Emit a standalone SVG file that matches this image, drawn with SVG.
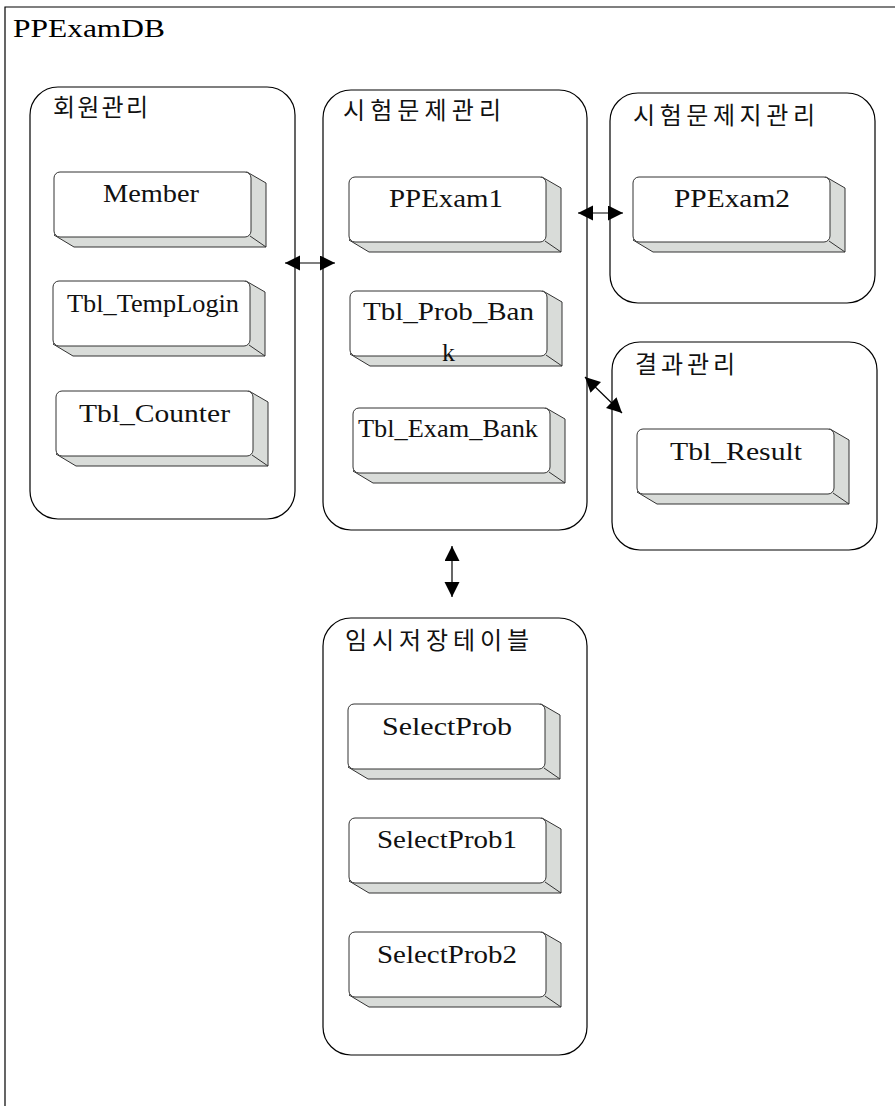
<svg xmlns="http://www.w3.org/2000/svg" xmlns:xlink="http://www.w3.org/1999/xlink" width="895" height="1106" viewBox="0 0 895 1106">
<style>
.frame{fill:none;stroke:#000;stroke-width:1.2}
.grp{fill:#fff;stroke:#000;stroke-width:1.2}
.glabel{font-family:"Noto Sans CJK KR","Noto Sans",sans-serif;font-size:24px;fill:#111}
.tlabel{font-family:"Liberation Serif","Times New Roman",serif;font-size:25px;fill:#111}
.title{font-family:"Liberation Serif","Times New Roman",serif;font-size:25px;fill:#000}
.conn{stroke:#000;stroke-width:1.2;fill:none}
</style>
<defs>
<marker id="ah" markerUnits="userSpaceOnUse" markerWidth="16" markerHeight="16" refX="15" refY="7.5" orient="auto-start-reverse" viewBox="0 0 16 16">
<path d="M0,0 L15,7.5 L0,15 z" fill="#000"/>
</marker>
<g id="tbl">
<polygon points="193,0 212,11 212,75 20,75 0,63" fill="#d9dcd9" stroke="#333" stroke-width="1"/>
<line x1="196" y1="64" x2="212" y2="75" stroke="#333" stroke-width="1"/>
<rect x="0" y="0" width="197" height="65" rx="6" fill="#fff" stroke="#333" stroke-width="1"/>
</g>
</defs>
<rect width="895" height="1106" fill="#fff"/>
<path class="frame" d="M5,1106 V7 H895"/>
<text class="title" x="13" y="37" textLength="152" lengthAdjust="spacingAndGlyphs">PPExamDB</text>

<g id="g-member">
<rect class="grp" x="30" y="87" width="265" height="432" rx="28"/>
<text class="glabel" x="53" y="116" textLength="95" lengthAdjust="spacing">회원관리</text>
</g>
<g id="g-exam">
<rect class="grp" x="323" y="90" width="264" height="440" rx="28"/>
<text class="glabel" x="343" y="119" textLength="158" lengthAdjust="spacing">시험문제관리</text>
</g>
<g id="g-paper">
<rect class="grp" x="610" y="93" width="265" height="210" rx="28"/>
<text class="glabel" x="633" y="124" textLength="182" lengthAdjust="spacing">시험문제지관리</text>
</g>
<g id="g-result">
<rect class="grp" x="612" y="342" width="265" height="208" rx="28"/>
<text class="glabel" x="635" y="373" textLength="100" lengthAdjust="spacing">결과관리</text>
</g>
<g id="g-temp">
<rect class="grp" x="323" y="618" width="264" height="437" rx="28"/>
<text class="glabel" x="345" y="649" textLength="184" lengthAdjust="spacing">임시저장테이블</text>
</g>

<g id="n-member"><use xlink:href="#tbl" href="#tbl" transform="translate(54,172)"/><text class="tlabel" x="103" y="202" textLength="96" lengthAdjust="spacingAndGlyphs">Member</text></g>
<g id="n-templogin"><use xlink:href="#tbl" href="#tbl" transform="translate(53,281)"/><text class="tlabel" x="67" y="312" textLength="172" lengthAdjust="spacingAndGlyphs">Tbl_TempLogin</text></g>
<g id="n-counter"><use xlink:href="#tbl" href="#tbl" transform="translate(56,391)"/><text class="tlabel" x="79" y="422" textLength="151" lengthAdjust="spacingAndGlyphs">Tbl_Counter</text></g>
<g id="n-ppexam1"><use xlink:href="#tbl" href="#tbl" transform="translate(349,177)"/><text class="tlabel" x="389" y="207" textLength="114" lengthAdjust="spacingAndGlyphs">PPExam1</text></g>
<g id="n-probbank"><use xlink:href="#tbl" href="#tbl" transform="translate(350,291)"/><text class="tlabel" x="363" y="320" textLength="171" lengthAdjust="spacingAndGlyphs">Tbl_Prob_Ban</text><text class="tlabel" x="442" y="361" textLength="13" lengthAdjust="spacingAndGlyphs">k</text></g>
<g id="n-exambank"><use xlink:href="#tbl" href="#tbl" transform="translate(353,408)"/><text class="tlabel" x="358" y="437" textLength="180" lengthAdjust="spacingAndGlyphs">Tbl_Exam_Bank</text></g>
<g id="n-ppexam2"><use xlink:href="#tbl" href="#tbl" transform="translate(633,177)"/><text class="tlabel" x="674" y="207" textLength="116" lengthAdjust="spacingAndGlyphs">PPExam2</text></g>
<g id="n-result"><use xlink:href="#tbl" href="#tbl" transform="translate(637,429)"/><text class="tlabel" x="670" y="460" textLength="132" lengthAdjust="spacingAndGlyphs">Tbl_Result</text></g>
<g id="n-select"><use xlink:href="#tbl" href="#tbl" transform="translate(348,704)"/><text class="tlabel" x="382" y="735" textLength="130" lengthAdjust="spacingAndGlyphs">SelectProb</text></g>
<g id="n-select1"><use xlink:href="#tbl" href="#tbl" transform="translate(349,818)"/><text class="tlabel" x="377" y="848" textLength="140" lengthAdjust="spacingAndGlyphs">SelectProb1</text></g>
<g id="n-select2"><use xlink:href="#tbl" href="#tbl" transform="translate(349,932)"/><text class="tlabel" x="377" y="963" textLength="140" lengthAdjust="spacingAndGlyphs">SelectProb2</text></g>

<g id="connectors">
<line class="conn" x1="285" y1="263" x2="335" y2="263" marker-start="url(#ah)" marker-end="url(#ah)"/>
<line class="conn" x1="578" y1="213" x2="623" y2="213" marker-start="url(#ah)" marker-end="url(#ah)"/>
<line class="conn" x1="585" y1="377" x2="622" y2="413" marker-start="url(#ah)" marker-end="url(#ah)"/>
<line class="conn" x1="452" y1="546" x2="452" y2="597" marker-start="url(#ah)" marker-end="url(#ah)"/>
</g>
</svg>
